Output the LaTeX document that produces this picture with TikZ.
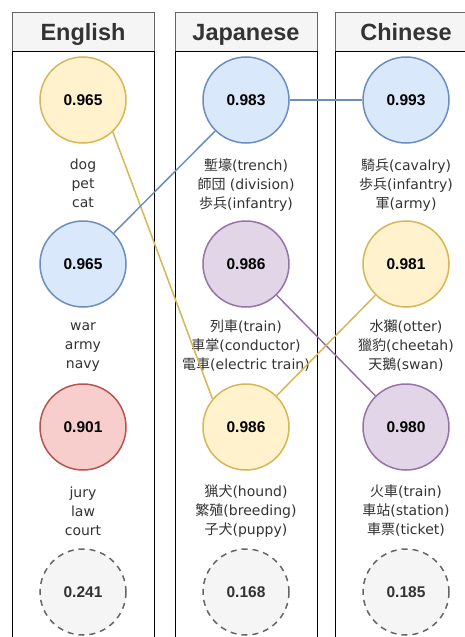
\documentclass[tikz,border=0pt]{standalone}
\usepackage{fontspec}
\setmainfont{DejaVu Sans}
\newfontfamily\hdfont{Liberation Sans}
\newfontfamily\jafont{Noto Sans CJK JP}
\newcommand\ja[1]{{\jafont #1}}
\definecolor{yfill}{HTML}{FFF2CC}\definecolor{ystroke}{HTML}{D6B656}
\definecolor{bfill}{HTML}{DAE8FC}\definecolor{bstroke}{HTML}{6C8EBF}
\definecolor{rfill}{HTML}{F8CECC}\definecolor{rstroke}{HTML}{B85450}
\definecolor{pfill}{HTML}{E1D5E7}\definecolor{pstroke}{HTML}{9673A6}
\definecolor{gfill}{HTML}{F5F5F5}\definecolor{gstroke}{HTML}{666666}
\definecolor{txt}{HTML}{333333}
\tikzset{
  circ/.style={circle, minimum size=86pt, inner sep=0pt, line width=1.5pt,
    font=\hdfont\bfseries\fontsize{15.5}{18}\selectfont},
  ycirc/.style={circ, draw=ystroke, fill=yfill},
  bcirc/.style={circ, draw=bstroke, fill=bfill},
  rcirc/.style={circ, draw=rstroke, fill=rfill},
  pcirc/.style={circ, draw=pstroke, fill=pfill},
  gcirc/.style={circ, draw=gstroke, fill=gfill, text=txt, dash pattern=on 6pt off 5pt},
  lbl/.style={align=center, text=txt, inner sep=0pt, font=\fontsize{14}{19}\selectfont},
  hdr/.style={draw=gstroke, fill=gfill, line width=1pt, minimum width=142pt, minimum height=39pt,
    inner sep=0pt, text height=17pt, text depth=0pt, text=txt,
    font=\hdfont\bfseries\fontsize{23.5}{26}\selectfont},
  colbody/.style={draw=black, line width=1pt},
  ylink/.style={draw=ystroke, line width=1.5pt},
  blink/.style={draw=bstroke, line width=1.5pt},
  plink/.style={draw=pstroke, line width=1.5pt}
}
\begin{document}
\begin{tikzpicture}[x=1pt,y=-1pt]
\useasboundingbox (0,0) rectangle (465,637);
\clip (0,0) rectangle (465,637);
% headers
\node[hdr] (hEN) at (83,31.5) {English};
\node[hdr] (hJA) at (246,31.5) {Japanese};
\node[hdr] (hZH) at (406,31.5) {Chinese};
% column bodies
\draw[colbody] (12,51) rectangle (154,660);
\draw[colbody] (175,51) rectangle (317,660);
\draw[colbody] (335,51) rectangle (477,660);
% English
\node[ycirc] (e1) at (83,100) {0.965};
\node[bcirc] (e2) at (83,264) {0.965};
\node[rcirc] (e3) at (83,427) {0.901};
\node[gcirc] (e4) at (83,592) {0.241};
\node[lbl] (le1) at (83,183) {dog\\pet\\cat};
\node[lbl] (le2) at (83,347) {war\\army\\navy};
\node[lbl] (le3) at (83,511) {jury\\law\\court};
% Japanese
\node[bcirc] (j1) at (246,100) {0.983};
\node[pcirc] (j2) at (246,264) {0.986};
\node[ycirc] (j3) at (246,427) {0.986};
\node[gcirc] (j4) at (246,592) {0.168};
\node[lbl] (lj1) at (246,185) {\ja{塹壕}(trench)\\\ja{師団} (division)\\\ja{歩兵}(infantry)};
\node[lbl] (lj2) at (246,346) {\ja{列車}(train)\\\ja{車掌}(conductor)\\\ja{電車}(electric train)};
\node[lbl] (lj3) at (246,511) {\ja{猟犬}(hound)\\\ja{繁殖}(breeding)\\\ja{子犬}(puppy)};
% Chinese
\node[bcirc] (z1) at (406,100) {0.993};
\node[ycirc] (z2) at (406,264) {0.981};
\node[pcirc] (z3) at (406,427) {0.980};
\node[gcirc] (z4) at (406,592) {0.185};
\node[lbl] (lz1) at (406,185) {\ja{騎兵}(cavalry)\\\ja{歩兵}(infantry)\\\ja{軍}(army)};
\node[lbl] (lz2) at (406,346) {\ja{水獺}(otter)\\\ja{獵豹}(cheetah)\\\ja{天鵝}(swan)};
\node[lbl] (lz3) at (406,511) {\ja{火車}(train)\\\ja{車站}(station)\\\ja{車票}(ticket)};
% links
\draw[ylink] (e1.-47) -- (j3.140);
\draw[blink] (e2) -- (j1);
\draw[blink] (j1) -- (z1);
\draw[plink] (j2) -- (z3);
\draw[ylink] (z2) -- (j3);
\end{tikzpicture}
\end{document}
